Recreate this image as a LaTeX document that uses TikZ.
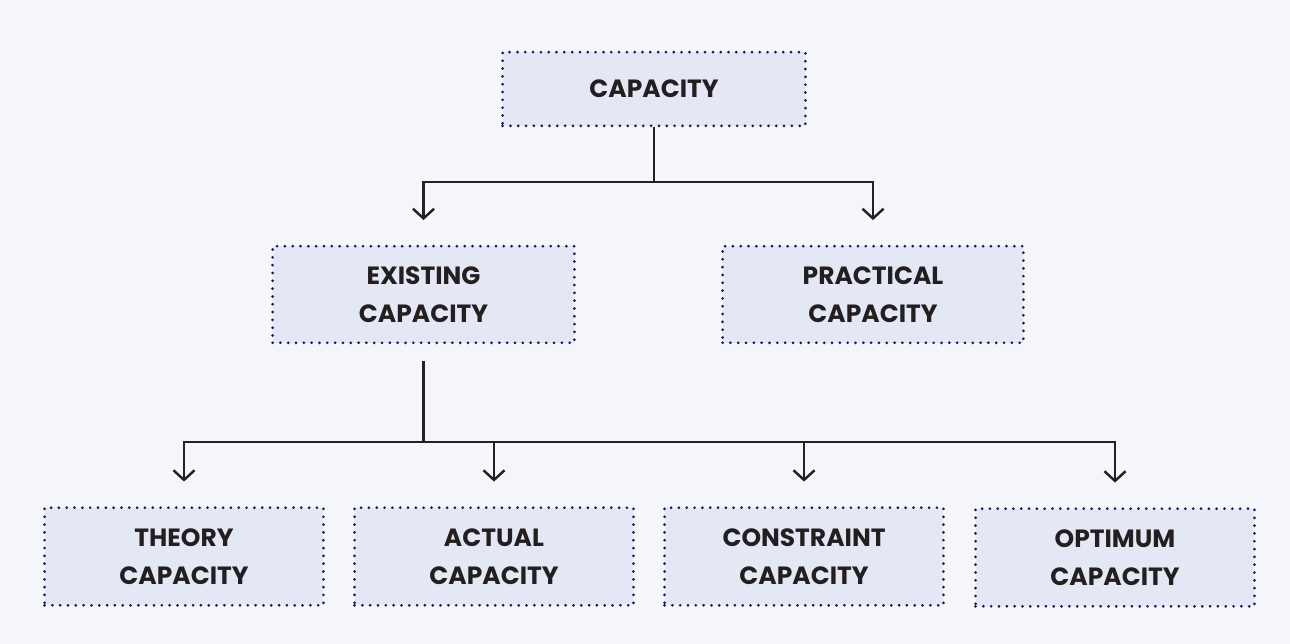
\documentclass[tikz,border=0pt]{standalone}
\usepackage{fontspec}
\setmainfont{Poppins}
\usetikzlibrary{arrows.meta}
\definecolor{bgc}{HTML}{F5F6FA}
\definecolor{boxc}{HTML}{E4E8F5}
\definecolor{dotc}{HTML}{1A175A}
\definecolor{linec}{HTML}{222222}
\definecolor{textc}{HTML}{231F20}
\tikzset{
  capbox/.style={fill=boxc, draw=dotc, line width=1.7pt, line cap=round,
    dash pattern=on 0pt off 4.45pt, align=center, text=textc,
    font=\fontsize{14.2}{21.5}\selectfont\bfseries, inner sep=0pt},
  link/.style={draw=linec, line width=1.4pt},
  tip/.style={-{Straight Barb[length=5.5pt, width=12pt, line width=1.4pt]}}
}
\begin{document}
\begin{tikzpicture}[x=0.02cm, y=-0.02cm]
\useasboundingbox[fill=bgc] (0,0) rectangle (1290,644);
\node[capbox, minimum width=304*0.567pt, minimum height=74*0.567pt] (cap) at (654, 89) {CAPACITY};
\node[capbox, minimum width=303*0.567pt, minimum height=97*0.567pt] (exist) at (423.5, 294.5) {EXISTING\\CAPACITY};
\node[capbox, minimum width=302*0.567pt, minimum height=97*0.567pt] (pract) at (873, 294.5) {PRACTICAL\\CAPACITY};
\node[capbox, minimum width=280*0.567pt, minimum height=98*0.567pt] (theory) at (184, 556.5) {THEORY\\CAPACITY};
\node[capbox, minimum width=280*0.567pt, minimum height=98*0.567pt] (actual) at (494, 556.5) {ACTUAL\\CAPACITY};
\node[capbox, minimum width=280*0.567pt, minimum height=98*0.567pt] (constr) at (804, 556.5) {CONSTRAINT\\CAPACITY};
\node[capbox, minimum width=280*0.567pt, minimum height=98*0.567pt] (optim) at (1115, 557.5) {OPTIMUM\\CAPACITY};
\draw[link] (cap.south) -- (cap.south |- 0,182) coordinate (top);
\draw[link, tip, shorten >=14pt] (top) -| (exist.north);
\draw[link, tip, shorten >=14pt] (top) -| (pract.north);
\draw[link, shorten <=9.6pt] (exist.south) -- (exist.south |- 0,442) coordinate (low);
\draw[link, tip, shorten >=14pt] (low) -| (theory.north);
\draw[link, tip, shorten >=14pt] (low) -| (actual.north);
\draw[link, tip, shorten >=14pt] (low) -| (constr.north);
\draw[link, tip, shorten >=14pt] (low) -| (optim.north);
\end{tikzpicture}
\end{document}
